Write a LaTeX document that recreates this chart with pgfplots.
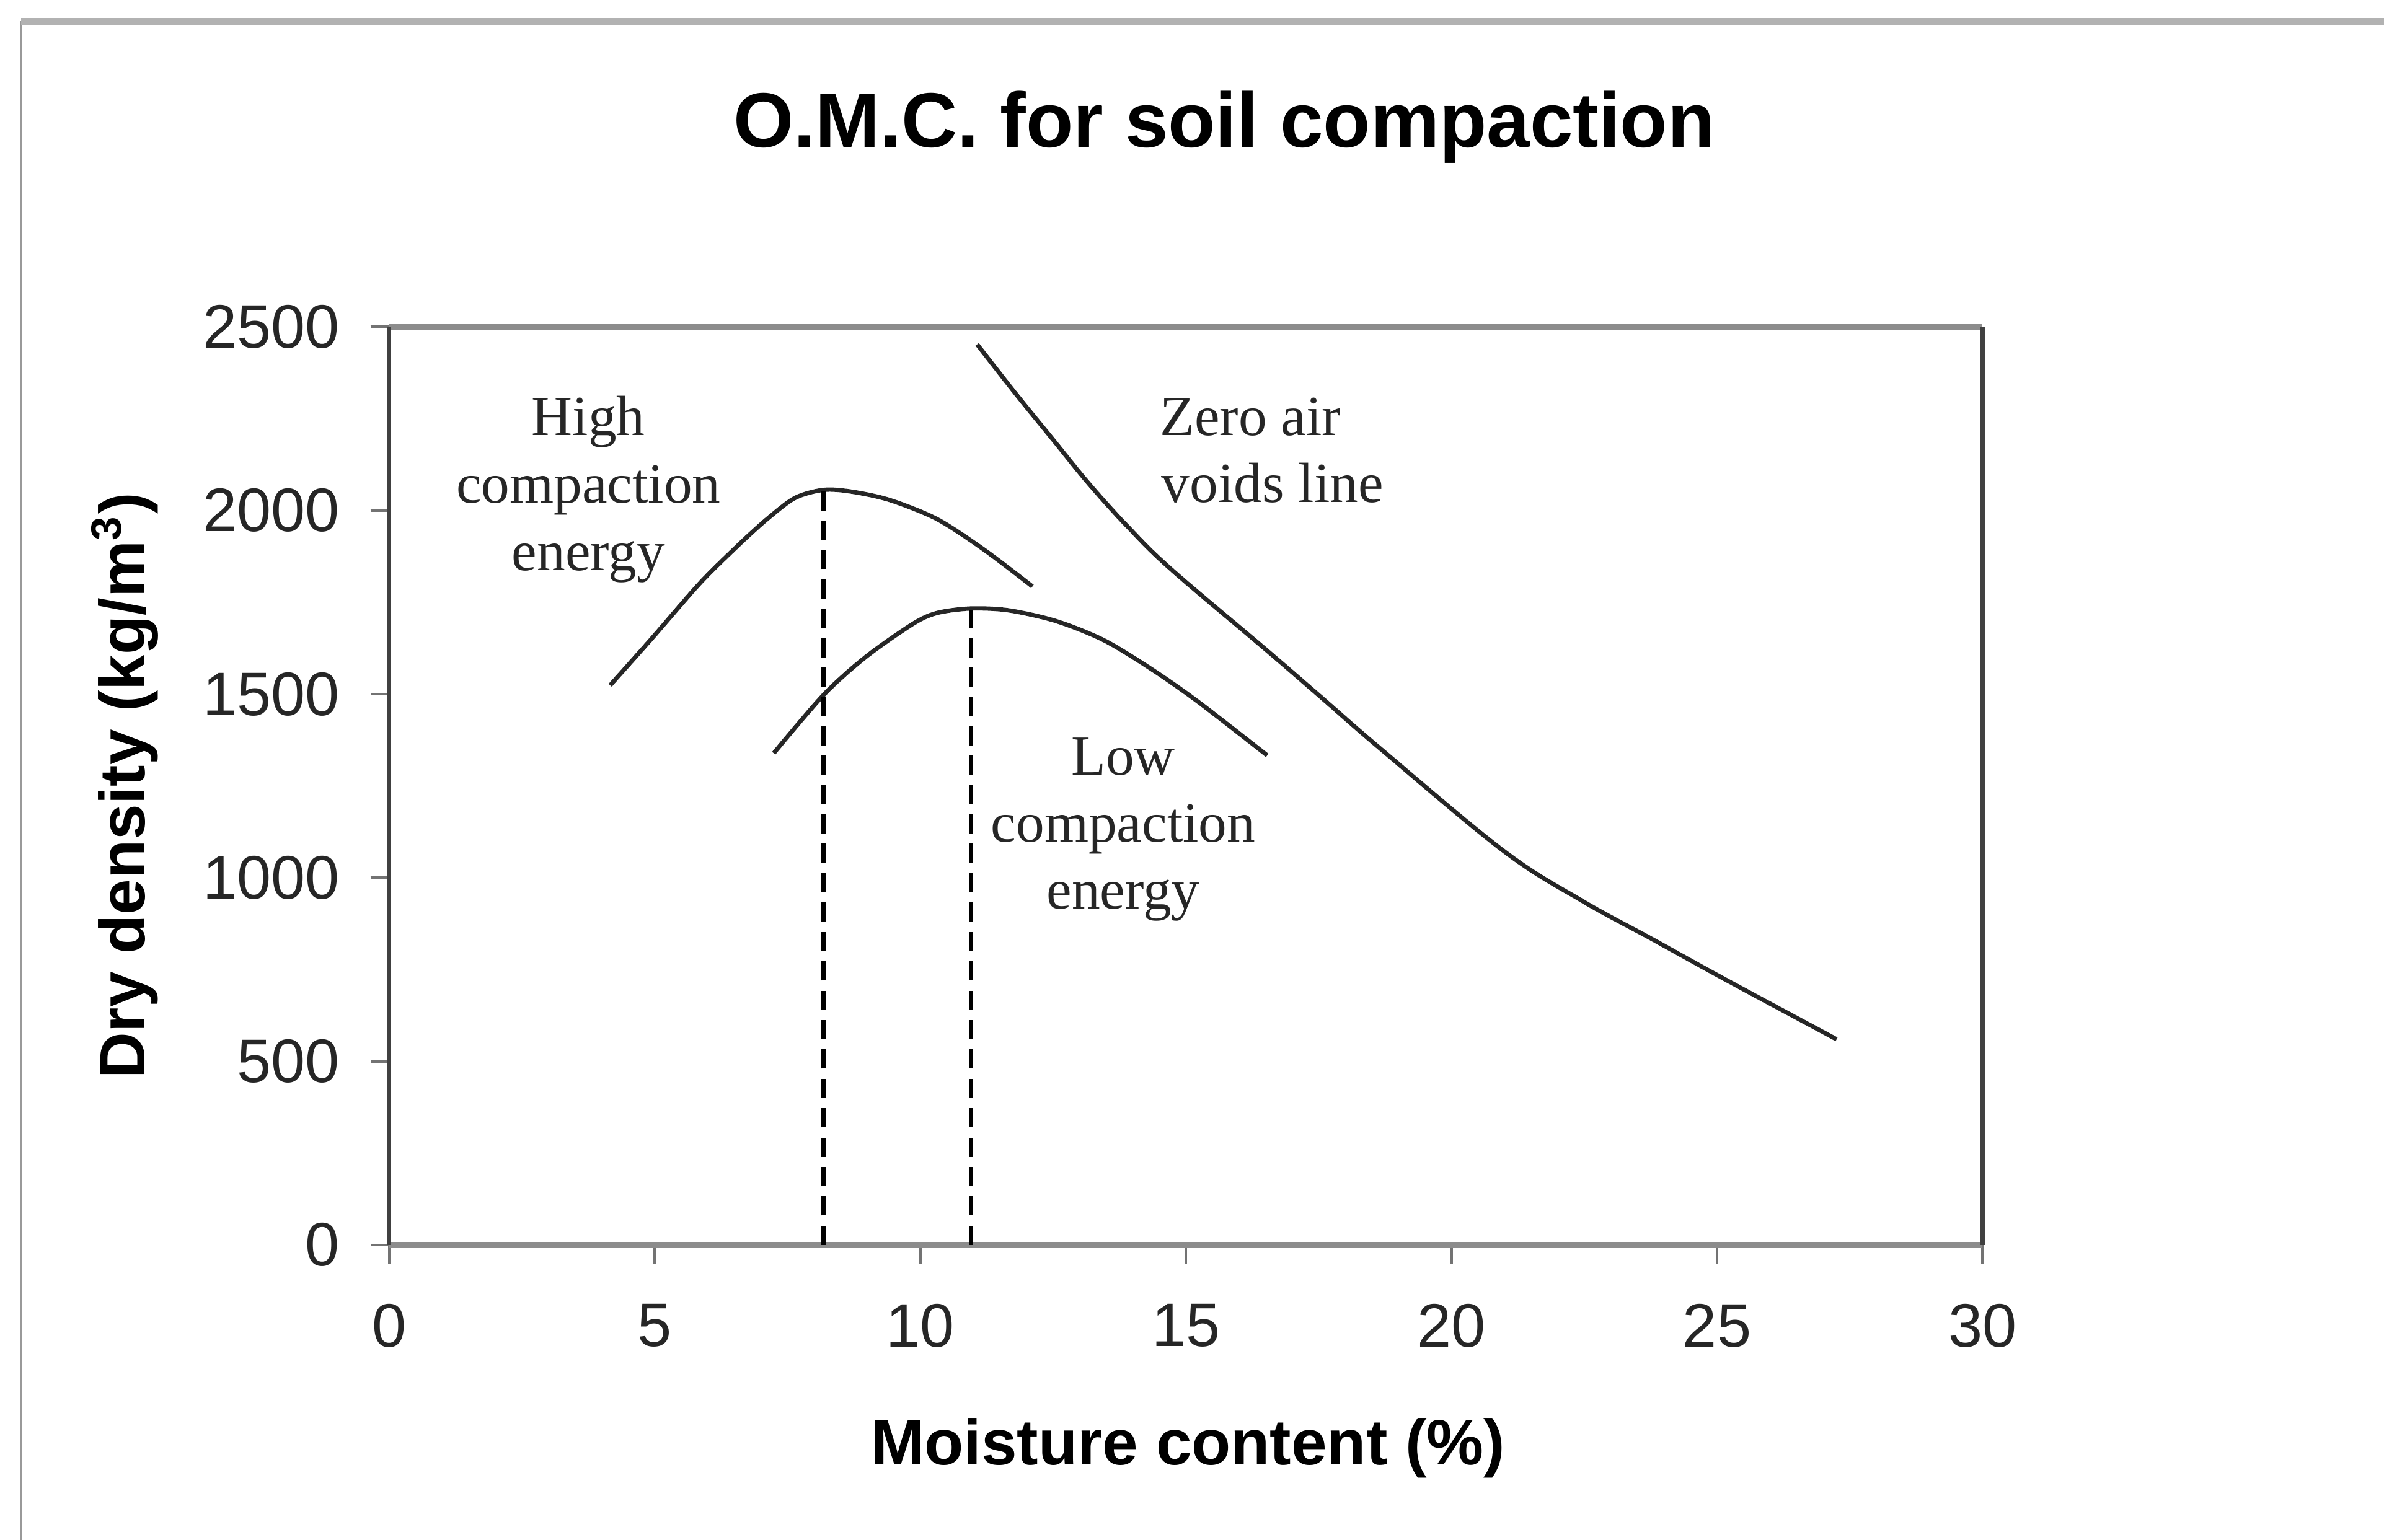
\documentclass[border=0pt]{standalone}
\usepackage{fontspec}
\setmainfont{Liberation Sans}
\newfontfamily\annfont{Liberation Serif}
\usepackage{pgfplots}
\pgfplotsset{compat=1.18}
\pgfplotstableread{
x y
4.16 1524
4.96 1654
5.85 1802
6.57 1905
7.11 1976
7.64 2034
8.18 2056
8.71 2051
9.43 2028
10.32 1976
11.21 1892
12.11 1793
}\highcurve
\pgfplotstableread{
x y
7.24 1339
8.18 1498
8.98 1602
9.87 1692
10.32 1721
10.95 1733
11.66 1728
12.55 1699
13.45 1647
14.34 1569
15.23 1479
16.53 1333
}\lowcurve
\pgfplotstableread{
x y
11.07 2452
11.80 2317
12.48 2196
13.16 2075
13.89 1958
14.72 1840
16.49 1623
17.54 1492
18.68 1349
20.98 1073
22.46 937
23.80 831
25.14 724
27.25 560
}\zav
\begin{document}
\begin{tikzpicture}
\useasboundingbox (-25.6mm,-19.4mm) rectangle (131.2mm,81.9mm);
\fill[white] (-25.6mm,-19.4mm) rectangle (131.2mm,81.9mm);
\draw[black!40, line width=0.5pt] (-24.2mm,-19.4mm) -- (-24.2mm,80.5mm);
\draw[black!30, line width=1.3pt] (-24.2mm,80.5mm) -- (131.2mm,80.5mm);
\begin{axis}[
  at={(0,0)}, anchor=south west,
  scale only axis, width=104.8mm, height=60.4mm,
  xmin=0, xmax=30, ymin=0, ymax=2500,
  xtick={0,5,...,30}, ytick={0,500,...,2500},
  tick pos=left, tick align=outside, major tick length=3.5pt,
  every tick/.style={black!55, line width=0.5pt},
  separate axis lines,
  every outer x axis line/.append style={draw=black!45, line width=1.1pt},
  every outer y axis line/.append style={draw=black!75, line width=0.7pt},
  /pgf/number format/assume math mode=true,
  /pgf/number format/1000 sep={},
  tick label style={font=\fontsize{11.5}{13}\selectfont, text=black!85},
  xticklabel style={yshift=-1.4mm},
  yticklabel style={xshift=-0.8mm},
  title={O.M.C. for soil compaction},
  title style={font=\bfseries\fontsize{14.5}{17}\selectfont, at={(rel axis cs:0.524,1.161)}, anchor=base},
  xlabel={Moisture content (\%)},
  xlabel style={font=\bfseries\fontsize{12}{14}\selectfont, at={(rel axis cs:0.5014,-0.2394)}, anchor=base},
  ylabel={Dry density (kg/m\textsuperscript{3})},
  ylabel style={font=\bfseries\fontsize{12}{14}\selectfont, at={(rel axis cs:-0.1536,0.5)}, anchor=base, rotate=0},
  clip=false,
]
\addplot[black!85, line width=0.8pt, smooth, tension=0.5] table {\highcurve};
\addplot[black!85, line width=0.8pt, smooth, tension=0.5] table {\lowcurve};
\addplot[black!85, line width=0.8pt, smooth, tension=0.6] table {\zav};
\addplot[black, line width=0.8pt, dash pattern=on 3.6pt off 1.9pt] coordinates {(8.18,0) (8.18,2052)};
\addplot[black, line width=0.8pt, dash pattern=on 3.6pt off 1.9pt] coordinates {(10.95,0) (10.95,1730)};
\begin{scope}[every node/.style={font=\annfont\fontsize{10.6}{12.6}\selectfont, text=black!85, inner sep=0pt}]
\node[anchor=base] at (axis cs:3.75,2205) {High};
\node[anchor=base] at (axis cs:3.75,2021) {compaction};
\node[anchor=base] at (axis cs:3.75,1837) {energy};
\node[anchor=base west] at (axis cs:14.49,2204) {Zero air};
\node[anchor=base west] at (axis cs:14.52,2022) {voids line};
\node[anchor=base] at (axis cs:13.82,1280) {Low};
\node[anchor=base] at (axis cs:13.82,1098) {compaction};
\node[anchor=base] at (axis cs:13.82,916) {energy};
\end{scope}
\end{axis}
\end{tikzpicture}
\end{document}
